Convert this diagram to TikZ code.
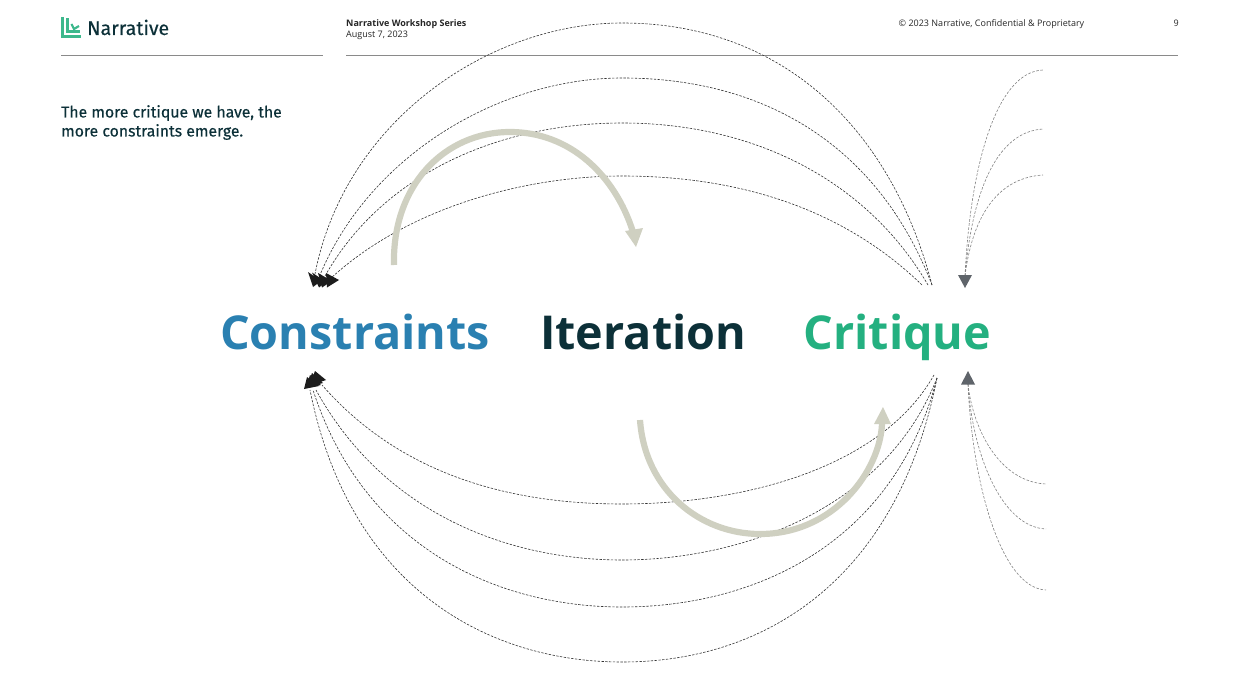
\documentclass[tikz,border=0pt]{standalone}
\usepackage{fontspec}
\setmainfont{Open Sans}
\newfontfamily\ubu[FakeBold=0.35]{Fira Sans}
\definecolor{inkdark}{HTML}{0C3038}
\definecolor{cblue}{HTML}{2A80B1}
\definecolor{cgreen}{HTML}{24B080}
\definecolor{beige}{HTML}{CFD0C1}
\definecolor{logogreen}{HTML}{3DB88C}
\definecolor{rulegray}{HTML}{8A8A8A}
\definecolor{headgray}{HTML}{5F646A}
\definecolor{headblack}{HTML}{1C1C1C}
\tikzset{
  big/.style={font=\fontsize{46.7}{48}\selectfont\bfseries,inner sep=0pt,anchor=base west},
  dashblack/.style={draw=black!80,line width=0.6pt,dash pattern=on 2.4pt off 1.4pt},
  dashgray/.style={draw=black!50,line width=0.6pt,dash pattern=on 2.6pt off 1.6pt},
  thick arc/.style={draw=beige,line width=6.2pt},
  toprule/.style={draw=rulegray,line width=1pt},
  small/.style={font=\fontsize{9}{11}\selectfont,text=black!85,inner sep=0pt,anchor=base west},
}
\begin{document}
\begin{tikzpicture}[x=1pt,y=-1pt]
\useasboundingbox (0,0) rectangle (1240,698);
% header
\draw[logogreen,line width=2.6pt] (62.5,17) -- (62.5,36.5) -- (81,36.5);
\draw[logogreen,line width=2.2pt] (67.5,18.5) -- (67.5,31.5) -- (80,31.5);
\draw[logogreen,line width=2.2pt] (71.5,24) -- (74,29) -- (79,26);
\node[anchor=base west,inner sep=0pt,text=inkdark,font=\ubu\fontsize{19.6}{20}\selectfont] (brand) at (87,35) {Narrative};
\draw[toprule] (61,55.5) -- (323,55.5);
\draw[toprule] (346,55.5) -- (1178,55.5);
\node[small,font=\fontsize{9}{11}\selectfont\bfseries] (series) at (346,27) {Narrative Workshop Series};
\node[small] (date) at (346,38) {August 7, 2023};
\node[small] (copy) at (898.5,27) {© 2023 Narrative, Confidential \& Proprietary};
\node[small] (page) at (1173.5,27) {9};
\node[anchor=base west,inner sep=0pt,text=inkdark,align=left,font=\ubu\fontsize{15.8}{19}\selectfont] (head) at (61,136.5) {The more critique we have, the\\more constraints emerge.};
% words
\node[big,text=cblue] (constraints) at (220,349) {Constraints};
\node[big,text=inkdark] (iteration) at (540,349) {Iteration};
\node[big,text=cgreen] (critique) at (803.5,349) {Critique};
% free ends
\foreach \n/\x/\y in {
 ta/315/274, tb/320/275, tc/325/276, td/330/279,
 ra/932/285, rb/932/285, rc/928/285, rd/922/285,
 aa/622/23, ab/622/78, ac/622/123, ad/622/176,
 ba/322/385, bb/316/390, bc/313/390, bd/310/390,
 sa/934/375, sb/937/378, sc/937/378, sd/937/378,
 ca/622/504, cb/622/560, cc/622/607, cd/622/662,
 ga/1043/70, gb/1043/129, gc/1043/175, gtip/965/276,
 ha/1046/484, hb/1046/529, hc/1046/590, htip/968/384}
 {\coordinate (\n) at (\x,\y);}
% black dashed top arcs
\draw[dashblack] (ra) .. controls (890,125) and (780,23) .. (aa) .. controls (490,23) and (345,120) .. (ta);
\draw[dashblack] (rb) .. controls (880,150) and (770,78) .. (ab) .. controls (500,78) and (370,155) .. (tb);
\draw[dashblack] (rc) .. controls (870,185) and (760,123) .. (ac) .. controls (505,123) and (385,170) .. (tc);
\draw[dashblack] (rd) .. controls (850,215) and (750,176) .. (ad) .. controls (530,176) and (410,205) .. (td);
% black dashed bottom arcs
\draw[dashblack] (sa) .. controls (880,470) and (740,504) .. (ca) .. controls (520,504) and (405,480) .. (ba);
\draw[dashblack] (sb) .. controls (885,510) and (740,560) .. (cb) .. controls (510,560) and (385,515) .. (bb);
\draw[dashblack] (sc) .. controls (893,548) and (750,607) .. (cc) .. controls (500,607) and (365,550) .. (bc);
\draw[dashblack] (sd) .. controls (898,575) and (770,662) .. (cd) .. controls (490,662) and (350,590) .. (bd);
% gray curves
\draw[dashgray] (gtip) .. controls (970,170) and (995,72) .. (ga);
\draw[dashgray] (gtip) .. controls (972,195) and (995,132) .. (gb);
\draw[dashgray] (gtip) .. controls (972,220) and (995,178) .. (gc);
\draw[dashgray] (htip) .. controls (973,430) and (1000,482) .. (ha);
\draw[dashgray] (htip) .. controls (972,450) and (1000,527) .. (hb);
\draw[dashgray] (htip) .. controls (972,480) and (1000,588) .. (hc);
% heads
\fill[headgray] (958,275) -- (972,275) -- (965,288) -- cycle;
\fill[headgray] (961,384.5) -- (975,384.5) -- (968,371) -- cycle;
\fill[headblack] (308,272) -- (313,287) -- (321,281) -- cycle;
\fill[headblack] (312,272.5) -- (319,287.5) -- (326,282) -- cycle;
\fill[headblack] (318,273) -- (322,287.5) -- (332,281) -- cycle;
\fill[headblack] (326,273) -- (327,287.5) -- (339,280) -- cycle;
\fill[headblack] (307,377) -- (319,386) -- (304,389) -- cycle;
\fill[headblack] (310,375) -- (321,385) -- (306,388) -- cycle;
\fill[headblack] (312,373) -- (323,383) -- (307,387) -- cycle;
\fill[headblack] (315,371) -- (326,380) -- (309,386) -- cycle;
% thick arrows
\coordinate (pa) at (394,265); \coordinate (pb) at (510,132); \coordinate (pc) at (633,232);
\coordinate (qa) at (640,420); \coordinate (qb) at (760,534); \coordinate (qc) at (882,424);
\draw[thick arc] (pa) .. controls (392,185) and (445,132) .. (pb) .. controls (570,132) and (615,175) .. (pc);
\fill[beige] (625,231) -- (643,228) -- (636,247) -- cycle;
\draw[thick arc] (qa) .. controls (645,490) and (700,534) .. (qb) .. controls (835,534) and (880,470) .. (qc);
\fill[beige] (874,424) -- (891,424) -- (883,407) -- cycle;
\end{tikzpicture}
\end{document}
